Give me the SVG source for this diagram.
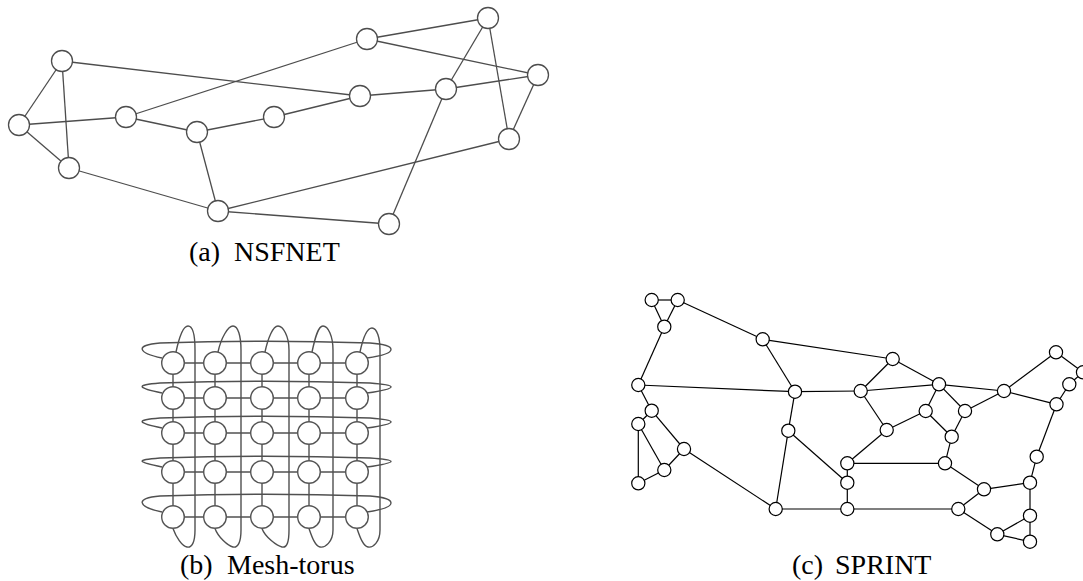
<svg xmlns="http://www.w3.org/2000/svg" width="1083" height="581" viewBox="0 0 1083 581">
<style>
.nl line{stroke:#4d4d4d;stroke-width:1.3}
.nn circle{fill:#fff;stroke:#4d4d4d;stroke-width:1.3}
.ml line,.ml path{stroke:#505050;stroke-width:1.4;fill:none}
.mn circle{fill:#fff;stroke:#555;stroke-width:1.4}
.sl line{stroke:#000;stroke-width:1.2}
.sn circle{fill:#fff;stroke:#000;stroke-width:1.2}
.lbl{font-family:"Liberation Serif","Times New Roman",serif;font-size:28px;fill:#000}
</style>
<rect width="1083" height="581" fill="#fff"/>

<!-- NSFNET connectors -->
<g id="nsfnet-edges" class="nl">
<line x1="62" y1="61" x2="19" y2="125"/>
<line x1="62" y1="61" x2="69" y2="168"/>
<line x1="62" y1="61" x2="360" y2="96"/>
<line x1="19" y1="125" x2="69" y2="168"/>
<line x1="19" y1="125" x2="126" y2="117"/>
<line x1="69" y1="168" x2="218" y2="211"/>
<line x1="126" y1="117" x2="197" y2="132"/>
<line x1="126" y1="117" x2="367" y2="39"/>
<line x1="197" y1="132" x2="274" y2="117"/>
<line x1="197" y1="132" x2="218" y2="211"/>
<line x1="218" y1="211" x2="509" y2="139"/>
<line x1="218" y1="211" x2="389" y2="224"/>
<line x1="274" y1="117" x2="360" y2="96"/>
<line x1="360" y1="96" x2="446" y2="89"/>
<line x1="446" y1="89" x2="538" y2="75"/>
<line x1="367" y1="39" x2="488" y2="18"/>
<line x1="367" y1="39" x2="538" y2="75"/>
<line x1="488" y1="18" x2="446" y2="89"/>
<line x1="446" y1="89" x2="389" y2="224"/>
<line x1="488" y1="18" x2="509" y2="139"/>
<line x1="538" y1="75" x2="509" y2="139"/>
</g>
<g class="nn">
<g id="n1"><circle cx="62" cy="61" r="10.5"/></g>
<g id="n2"><circle cx="19" cy="125" r="10.5"/></g>
<g id="n3"><circle cx="69" cy="168" r="10.5"/></g>
<g id="n4"><circle cx="126" cy="117" r="10.5"/></g>
<g id="n5"><circle cx="197" cy="132" r="10.5"/></g>
<g id="n6"><circle cx="218" cy="211" r="10.5"/></g>
<g id="n7"><circle cx="274" cy="117" r="10.5"/></g>
<g id="n8"><circle cx="367" cy="39" r="10.5"/></g>
<g id="n9"><circle cx="488" cy="18" r="10.5"/></g>
<g id="n10"><circle cx="360" cy="96" r="10.5"/></g>
<g id="n11"><circle cx="446" cy="89" r="10.5"/></g>
<g id="n12"><circle cx="538" cy="75" r="10.5"/></g>
<g id="n13"><circle cx="509" cy="139" r="10.5"/></g>
<g id="n14"><circle cx="389" cy="224" r="10.5"/></g>
</g>
<text class="lbl" x="189" y="261">(a)<tspan x="234">NSFNET</tspan></text>

<!-- Mesh-torus connectors -->
<g id="mesh-edges" class="ml">
<line x1="173" y1="363" x2="357" y2="363"/>
<line x1="173" y1="398" x2="357" y2="398"/>
<line x1="173" y1="433" x2="357" y2="433"/>
<line x1="173" y1="472" x2="357" y2="472"/>
<line x1="173" y1="517" x2="357" y2="517"/>
<line x1="173" y1="363" x2="173" y2="517"/>
<line x1="215" y1="363" x2="215" y2="517"/>
<line x1="262" y1="363" x2="262" y2="517"/>
<line x1="309" y1="363" x2="309" y2="517"/>
<line x1="357" y1="363" x2="357" y2="517"/>
<path d="M162,358 C138,353 134,345 160,343 C220,341 310,341 370,343 C397,345 400,353 367,358"/>
<path d="M162,393 C138,388 134,385 160,383 C220,381 310,381 370,383 C397,385 400,388 367,393"/>
<path d="M162,428 C138,423 134,420 160,418 C220,416 310,416 370,418 C397,420 400,423 367,428"/>
<path d="M162,467 C138,462 134,460 160,458 C220,456 310,456 370,458 C397,460 400,462 367,467"/>
<path d="M162,512 C138,507 134,498 160,496 C220,494 310,494 370,496 C397,498 400,507 367,512"/>
<path d="M176,352 C179,338 183,326 188,326 C193,326 195,336 195,350 L195,530 C195,542 192,548 187,547 C182,546 176,537 173,528.5"/>
<path d="M218,352 C221,338 228,326 233,326 C238,326 241,336 241,350 L241,530 C241,542 238,548 233,547 C228,546 218,537 215,528.5"/>
<path d="M265,352 C268,338 273,326 278,326 C283,326 289,336 289,350 L289,530 C289,542 287,548 282,547 C277,546 265,537 262,528.5"/>
<path d="M312,352 C315,338 318,326 323,326 C328,326 333,336 333,350 L333,530 C333,542 325,548 320,547 C315,546 312,537 309,528.5"/>
<path d="M360,352 C363,338 367,328 372,328 C377,328 380,338 380,350 L380,530 C380,542 373,548 368,547 C363,546 360,537 357,528.5"/>
</g>
<g class="mn">
<g id="m11"><circle cx="173" cy="363" r="11.3"/></g>
<g id="m12"><circle cx="215" cy="363" r="11.3"/></g>
<g id="m13"><circle cx="262" cy="363" r="11.3"/></g>
<g id="m14"><circle cx="309" cy="363" r="11.3"/></g>
<g id="m15"><circle cx="357" cy="363" r="11.3"/></g>
<g id="m21"><circle cx="173" cy="398" r="11.3"/></g>
<g id="m22"><circle cx="215" cy="398" r="11.3"/></g>
<g id="m23"><circle cx="262" cy="398" r="11.3"/></g>
<g id="m24"><circle cx="309" cy="398" r="11.3"/></g>
<g id="m25"><circle cx="357" cy="398" r="11.3"/></g>
<g id="m31"><circle cx="173" cy="433" r="11.3"/></g>
<g id="m32"><circle cx="215" cy="433" r="11.3"/></g>
<g id="m33"><circle cx="262" cy="433" r="11.3"/></g>
<g id="m34"><circle cx="309" cy="433" r="11.3"/></g>
<g id="m35"><circle cx="357" cy="433" r="11.3"/></g>
<g id="m41"><circle cx="173" cy="472" r="11.3"/></g>
<g id="m42"><circle cx="215" cy="472" r="11.3"/></g>
<g id="m43"><circle cx="262" cy="472" r="11.3"/></g>
<g id="m44"><circle cx="309" cy="472" r="11.3"/></g>
<g id="m45"><circle cx="357" cy="472" r="11.3"/></g>
<g id="m51"><circle cx="173" cy="517" r="11.3"/></g>
<g id="m52"><circle cx="215" cy="517" r="11.3"/></g>
<g id="m53"><circle cx="262" cy="517" r="11.3"/></g>
<g id="m54"><circle cx="309" cy="517" r="11.3"/></g>
<g id="m55"><circle cx="357" cy="517" r="11.3"/></g>
</g>
<text class="lbl" x="180" y="574">(b)<tspan x="227">Mesh-torus</tspan></text>

<!-- SPRINT connectors -->
<g id="sprint-edges" class="sl">
<line x1="651.7" y1="300" x2="677.7" y2="300"/>
<line x1="651.7" y1="300" x2="664.3" y2="326.7"/>
<line x1="677.7" y1="300" x2="664.3" y2="326.7"/>
<line x1="677.7" y1="300" x2="762.7" y2="339.3"/>
<line x1="664.3" y1="326.7" x2="638.3" y2="385"/>
<line x1="762.7" y1="339.3" x2="892.7" y2="359"/>
<line x1="762.7" y1="339.3" x2="795" y2="391.7"/>
<line x1="638.3" y1="385" x2="795" y2="391.7"/>
<line x1="638.3" y1="385" x2="651.7" y2="410.7"/>
<line x1="651.7" y1="410.7" x2="638.3" y2="424"/>
<line x1="651.7" y1="410.7" x2="684" y2="449"/>
<line x1="795" y1="391.7" x2="788.3" y2="430.7"/>
<line x1="795" y1="391.7" x2="860.7" y2="391"/>
<line x1="638.3" y1="424" x2="638.3" y2="483.3"/>
<line x1="638.3" y1="424" x2="664.3" y2="470"/>
<line x1="684" y1="449" x2="664.3" y2="470"/>
<line x1="664.3" y1="470" x2="638.3" y2="483.3"/>
<line x1="684" y1="449" x2="775.7" y2="509"/>
<line x1="788.3" y1="430.7" x2="775.7" y2="509"/>
<line x1="788.3" y1="430.7" x2="847.3" y2="482.7"/>
<line x1="775.7" y1="509" x2="847.3" y2="509"/>
<line x1="892.7" y1="359" x2="860.7" y2="391"/>
<line x1="892.7" y1="359" x2="939" y2="384.3"/>
<line x1="860.7" y1="391" x2="939" y2="384.3"/>
<line x1="860.7" y1="391" x2="886.7" y2="430"/>
<line x1="939" y1="384.3" x2="1004" y2="391"/>
<line x1="939" y1="384.3" x2="925.7" y2="411"/>
<line x1="939" y1="384.3" x2="965" y2="411"/>
<line x1="1004" y1="391" x2="1056" y2="352.3"/>
<line x1="1004" y1="391" x2="1056.5" y2="404.3"/>
<line x1="1056" y1="352.3" x2="1083" y2="372.3"/>
<line x1="1083" y1="372.3" x2="1069.3" y2="384.3"/>
<line x1="1069.3" y1="384.3" x2="1056.5" y2="404.3"/>
<line x1="1056.5" y1="404.3" x2="1036.7" y2="456.7"/>
<line x1="1036.7" y1="456.7" x2="1030" y2="482.7"/>
<line x1="925.7" y1="411" x2="886.7" y2="430"/>
<line x1="886.7" y1="430" x2="847.3" y2="463.3"/>
<line x1="925.7" y1="411" x2="951.7" y2="436.7"/>
<line x1="965" y1="411" x2="951.7" y2="436.7"/>
<line x1="965" y1="411" x2="1004" y2="391"/>
<line x1="951.7" y1="436.7" x2="945" y2="463.3"/>
<line x1="847.3" y1="463.3" x2="945" y2="463.3"/>
<line x1="847.3" y1="463.3" x2="847.3" y2="482.7"/>
<line x1="847.3" y1="482.7" x2="847.3" y2="509"/>
<line x1="847.3" y1="509" x2="958.3" y2="509"/>
<line x1="945" y1="463.3" x2="984" y2="489.3"/>
<line x1="984" y1="489.3" x2="1030" y2="482.7"/>
<line x1="958.3" y1="509" x2="984" y2="489.3"/>
<line x1="958.3" y1="509" x2="997.3" y2="534.3"/>
<line x1="997.3" y1="534.3" x2="1030" y2="515.7"/>
<line x1="997.3" y1="534.3" x2="1030" y2="541.7"/>
<line x1="1030" y1="515.7" x2="1030" y2="541.7"/>
<line x1="1030" y1="482.7" x2="1030" y2="515.7"/>
</g>
<g class="sn">
<g id="s1"><circle cx="651.7" cy="300" r="6.6"/></g>
<g id="s2"><circle cx="677.7" cy="300" r="6.6"/></g>
<g id="s3"><circle cx="664.3" cy="326.7" r="6.6"/></g>
<g id="s4"><circle cx="762.7" cy="339.3" r="6.6"/></g>
<g id="s5"><circle cx="638.3" cy="385" r="6.6"/></g>
<g id="s6"><circle cx="795" cy="391.7" r="6.6"/></g>
<g id="s7"><circle cx="651.7" cy="410.7" r="6.6"/></g>
<g id="s8"><circle cx="638.3" cy="424" r="6.6"/></g>
<g id="s9"><circle cx="788.3" cy="430.7" r="6.6"/></g>
<g id="s10"><circle cx="684" cy="449" r="6.6"/></g>
<g id="s11"><circle cx="664.3" cy="470" r="6.6"/></g>
<g id="s12"><circle cx="638.3" cy="483.3" r="6.6"/></g>
<g id="s13"><circle cx="775.7" cy="509" r="6.6"/></g>
<g id="t1"><circle cx="892.7" cy="359" r="6.6"/></g>
<g id="t2"><circle cx="860.7" cy="391" r="6.6"/></g>
<g id="t3"><circle cx="939" cy="384.3" r="6.6"/></g>
<g id="t4"><circle cx="1004" cy="391" r="6.6"/></g>
<g id="t5"><circle cx="1056" cy="352.3" r="6.6"/></g>
<g id="t6"><circle cx="1083" cy="372.3" r="6.6"/></g>
<g id="t7"><circle cx="1069.3" cy="384.3" r="6.6"/></g>
<g id="t8"><circle cx="1056.5" cy="404.3" r="6.6"/></g>
<g id="t9"><circle cx="925.7" cy="411" r="6.6"/></g>
<g id="t10"><circle cx="965" cy="411" r="6.6"/></g>
<g id="t11"><circle cx="886.7" cy="430" r="6.6"/></g>
<g id="t12"><circle cx="951.7" cy="436.7" r="6.6"/></g>
<g id="t13"><circle cx="1036.7" cy="456.7" r="6.6"/></g>
<g id="t14"><circle cx="847.3" cy="463.3" r="6.6"/></g>
<g id="t15"><circle cx="945" cy="463.3" r="6.6"/></g>
<g id="t16"><circle cx="847.3" cy="482.7" r="6.6"/></g>
<g id="t17"><circle cx="984" cy="489.3" r="6.6"/></g>
<g id="t18"><circle cx="1030" cy="482.7" r="6.6"/></g>
<g id="t19"><circle cx="847.3" cy="509" r="6.6"/></g>
<g id="t20"><circle cx="958.3" cy="509" r="6.6"/></g>
<g id="t21"><circle cx="1030" cy="515.7" r="6.6"/></g>
<g id="t22"><circle cx="997.3" cy="534.3" r="6.6"/></g>
<g id="t23"><circle cx="1030" cy="541.7" r="6.6"/></g>
</g>
<text class="lbl" x="792" y="574">(c)<tspan x="835">SPRINT</tspan></text>
</svg>
